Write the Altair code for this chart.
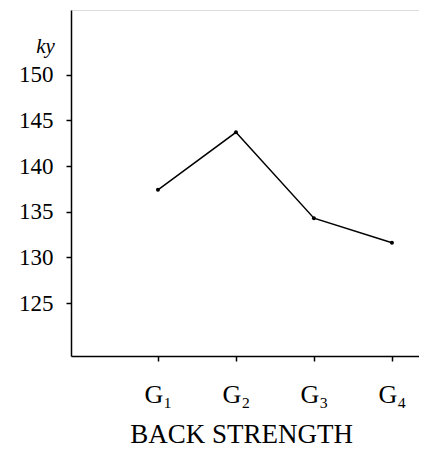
import altair as alt
import pandas as pd

groups = ["G₁", "G₂", "G₃", "G₄"]
group_index = [1, 2, 3, 4]
back_strength = [137.4, 143.7, 134.3, 131.6]
y_ticks = [125, 130, 135, 140, 145, 150]

df = pd.DataFrame({"idx": group_index, "group": groups, "value": back_strength})

label_expr = "[" + ",".join(["''"] + [f"'{g}'" for g in groups]) + "][datum.value]"

FONT = "Liberation Serif"

x = alt.X(
    "idx:Q",
    scale=alt.Scale(domain=[-0.115, 4.347], nice=False, zero=False),
    axis=alt.Axis(
        values=group_index,
        labelExpr=label_expr,
        grid=False,
        tickSize=5,
        tickWidth=1.5,
        domainWidth=1.5,
        domainColor="black",
        tickColor="black",
        labelFont=FONT,
        labelFontSize=26,
        labelColor="black",
        labelPadding=20,
        labelBaseline="top",
        title="BACK STRENGTH",
        titleFont=FONT,
        titleFontSize=27,
        titleFontWeight="normal",
        titleColor="black",
        titleX=170,
        titleY=86,
        titleAlign="center",
        titleBaseline="alphabetic",
    ),
)

y = alt.Y(
    "value:Q",
    scale=alt.Scale(domain=[119.2, 157.1], nice=False, zero=False),
    axis=alt.Axis(
        values=y_ticks,
        grid=False,
        tickSize=5,
        tickWidth=1.5,
        domainWidth=1.5,
        domainColor="black",
        tickColor="black",
        labelFont=FONT,
        labelFontSize=23,
        labelColor="black",
        labelPadding=13,
        title="ky",
        titleFont=FONT,
        titleFontSize=21,
        titleFontStyle="italic",
        titleFontWeight="normal",
        titleColor="black",
        titleAngle=0,
        titleX=-26,
        titleY=42,
        titleAlign="center",
        titleBaseline="alphabetic",
    ),
)

base = alt.Chart(df)
line = base.mark_line(color="black", strokeWidth=1.5).encode(x=x, y=y)
pts = base.mark_circle(color="black", size=16, opacity=1).encode(x=x, y=y)

chart = (
    alt.layer(line, pts)
    .properties(
        width=348,
        height=346,
        autosize=alt.AutoSizeParams(type="none"),
        padding={"left": 63, "top": 2, "right": 0, "bottom": 94},
    )
    .configure_view(stroke=None)
    .configure(background="white")
)

chart.save("out.html", embed_options={"renderer": "svg", "actions": False})
